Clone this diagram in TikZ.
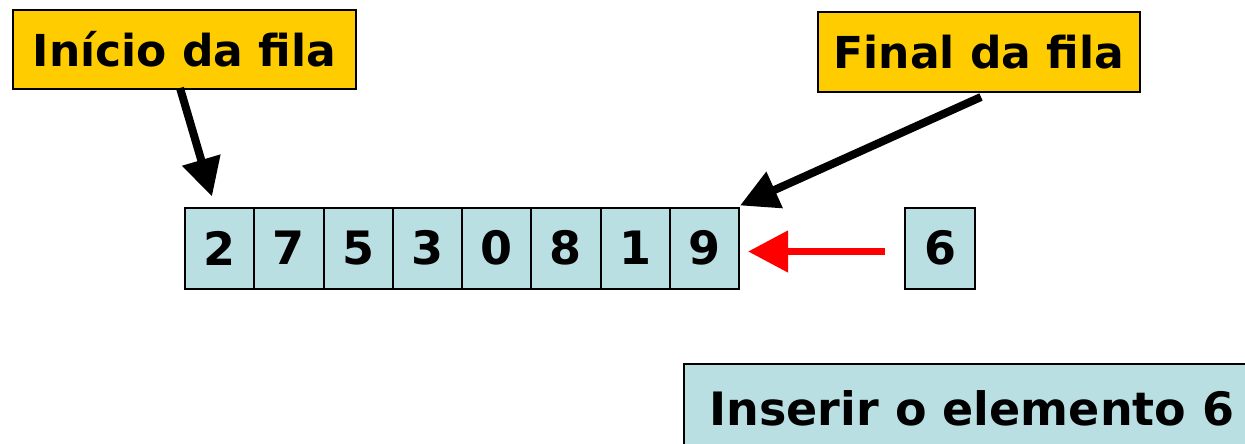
\documentclass[tikz,border=0pt]{standalone}
\usepackage{fontspec}
\setmainfont{DejaVu Sans}
\usetikzlibrary{arrows.meta,calc}
\definecolor{tagyellow}{HTML}{FFCC00}
\definecolor{cellblue}{HTML}{B9DFE3}
\definecolor{pushred}{HTML}{FF0000}
\begin{document}
\begin{tikzpicture}[x=1pt,y=-1pt,
  tag/.style={draw=black,line width=2pt,fill=tagyellow,inner sep=0pt,outer sep=0pt,
    font=\fontsize{44}{50}\selectfont\bfseries},
  cell/.style={draw=black,line width=2pt,fill=cellblue,minimum width=69.25pt,
    minimum height=81pt,inner sep=0pt,outer sep=0pt,font=\fontsize{46}{52}\selectfont\bfseries},
  note/.style={draw=black,line width=2pt,fill=cellblue,inner sep=0pt,outer sep=0pt,
    font=\fontsize{46}{54}\selectfont\bfseries},
  pointer/.style={draw=black,line width=8pt,-{Triangle[length=38pt,width=38pt]}},
  push/.style={draw=pushred,line width=7.5pt,-{Triangle[length=40pt,width=40pt]}}]
\useasboundingbox (0,0) rectangle (1245,444);
\clip (0,0) rectangle (1245,444);
\fill[white] (0,0) rectangle (1245,444);

% labels for the two ends of the queue
\node[tag,minimum width=343pt,minimum height=79pt] (head) at (184.5,49.5) {Início da fila};
\node[tag,minimum width=322pt,minimum height=80pt] (tail) at (979,52) {Final da fila};

% queue contents
\foreach \v [count=\i] in {2,7,5,3,0,8,1,9}
  \node[cell] (c\i) at ({185+69.25*(\i-0.5)},248) {\v};

% element waiting to be inserted
\node[cell,minimum width=70pt] (new) at (940,248) {6};

% operation caption (box runs off the right and bottom edges)
\node[note,minimum width=576pt,text height=61pt,text depth=35pt,anchor=base]
  (op) at (972,425) {Inserir o elemento 6};

% pointers
\draw[pointer] ([xshift=-4.5pt,yshift=1pt]head.south) -- ([shift={(27,-11)}]c1.north west);
\draw[pointer] ([shift={(2,5)}]tail.south) -- ([shift={(1,-2)}]c8.north east);
\draw[push] ([xshift=-20pt,yshift=-3.5pt]new.west) -- ([xshift=9pt,yshift=-3.5pt]c8.east);
\end{tikzpicture}
\end{document}
